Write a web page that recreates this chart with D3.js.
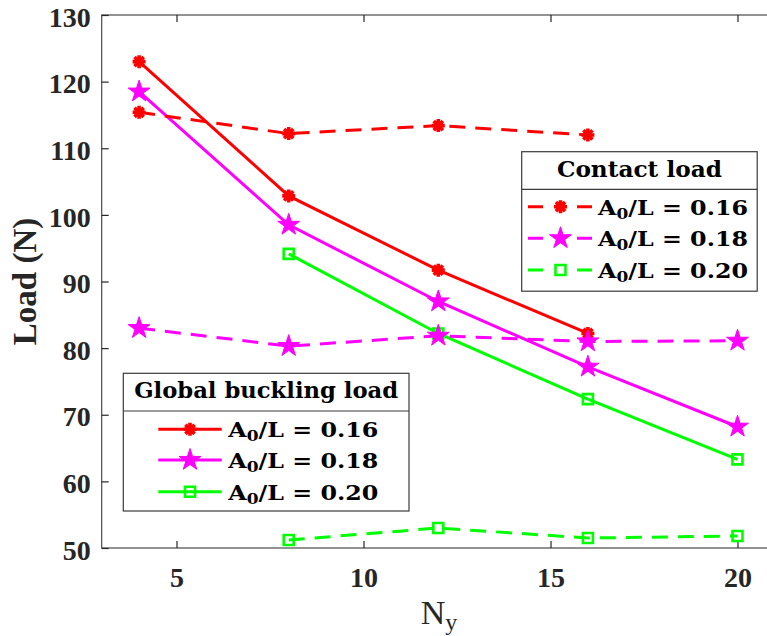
<!DOCTYPE html>
<html>
<head>
<meta charset="utf-8">
<script src="https://cdn.jsdelivr.net/npm/d3@7"></script>
<style>
  html, body { margin: 0; padding: 0; background: #fff; }
  svg { display: block; }
</style>
</head>
<body>
<div id="chart"></div>
<script>
// Number of elements along y (x axis)
const ny = [4, 8, 12, 16, 20];

// Global buckling load (solid lines), one array per A0/L ratio
const globalA016 = [123.0, 102.85, 91.7, 82.2, null];
const globalA018 = [118.5, 98.5, 87.0, 77.2, 68.2];
const globalA020 = [null, 94.15, 82.2, 72.35, 63.3];

// Contact load (dashed lines)
const contactA016 = [115.4, 112.2, 113.4, 112.0, null];
const contactA018 = [83.0, 80.3, 81.85, 81.0, 81.1];
const contactA020 = [null, 51.2, 53.0, 51.5, 51.8];

const ratioLabels = ["0.16", "0.18", "0.20"];
const xTicks = [5, 10, 15, 20];
const yTicks = [50, 60, 70, 80, 90, 100, 110, 120, 130];

const W = 767, H = 636;
const colors = ["#ff0000", "#ff00ff", "#00ff00"];
const markers = ["asterisk", "star", "square"];

const svg = d3.select("#chart").append("svg")
  .attr("width", W).attr("height", H);

const x = d3.scaleLinear().domain([3, 21]).range([101.7, 101.7 + 18 * 37.4]);
const y = d3.scaleLinear().domain([50, 130]).range([548, 15]);

const axisColor = "#262626";
const tickFont = "'Liberation Serif', 'Times New Roman', serif";
const texFont = "'DejaVu Serif', serif";

// Plot box
const [x0, x1] = x.range();
const [yb, yt] = y.range();
svg.append("rect")
  .attr("x", x0).attr("y", yt).attr("width", x1 - x0).attr("height", yb - yt)
  .attr("fill", "none").attr("stroke", "#4a4a4a").attr("stroke-width", 1.2);

// Axes with inward ticks
const tickLen = 7;
const xAxisB = svg.append("g").attr("transform", `translate(0,${yb})`)
  .call(d3.axisBottom(x).tickValues(xTicks).tickSizeInner(-tickLen).tickSizeOuter(0).tickPadding(19));
const xAxisT = svg.append("g").attr("transform", `translate(0,${yt})`)
  .call(d3.axisTop(x).tickValues(xTicks).tickSizeInner(-tickLen).tickSizeOuter(0).tickFormat(""));
const yAxisL = svg.append("g").attr("transform", `translate(${x0},0)`)
  .call(d3.axisLeft(y).tickValues(yTicks).tickSizeInner(-tickLen).tickSizeOuter(0).tickPadding(11));
const yAxisR = svg.append("g").attr("transform", `translate(${x1},0)`)
  .call(d3.axisRight(y).tickValues(yTicks).tickSizeInner(-tickLen).tickSizeOuter(0).tickFormat(""));

[xAxisB, xAxisT, yAxisL, yAxisR].forEach(g => {
  g.select(".domain").remove();
  g.selectAll(".tick line").attr("stroke", axisColor).attr("stroke-width", 1.2);
  g.selectAll(".tick text")
    .attr("fill", axisColor)
    .style("font-family", tickFont)
    .style("font-weight", "bold")
    .style("font-size", "28px");
});
yAxisL.selectAll(".tick text").attr("dy", "0.4em");
xAxisB.selectAll(".tick text").attr("dy", "0.71em");

// Axis labels
svg.append("text")
  .attr("transform", `translate(36,${(yt + yb) / 2}) rotate(-90)`)
  .attr("text-anchor", "middle")
  .attr("fill", axisColor)
  .style("font-family", tickFont).style("font-weight", "bold").style("font-size", "33px")
  .text("Load (N)");

const xl = svg.append("text")
  .attr("x", 439).attr("y", 624)
  .attr("text-anchor", "middle")
  .attr("fill", axisColor)
  .style("font-family", tickFont).style("font-size", "34px");
xl.append("tspan").text("N");
xl.append("tspan").attr("dy", 6).style("font-size", "24px").text("y");

// Marker shapes
function markerPath(kind) {
  if (kind === "asterisk") {
    const r = 6.5;
    const p = d3.path();
    for (let k = 0; k < 4; k++) {
      const a = k * Math.PI / 4;
      p.moveTo(-r * Math.cos(a), -r * Math.sin(a));
      p.lineTo(r * Math.cos(a), r * Math.sin(a));
    }
    return p.toString();
  }
  if (kind === "star") {
    const R = 11.5, r = R * 0.382;
    const pts = [];
    for (let k = 0; k < 10; k++) {
      const a = -Math.PI / 2 + k * Math.PI / 5;
      const rad = k % 2 ? r : R;
      pts.push([rad * Math.cos(a), rad * Math.sin(a)]);
    }
    return "M" + pts.map(p => p.join(",")).join("L") + "Z";
  }
  const s = 5;
  return `M${-s},${-s}H${s}V${s}H${-s}Z`;
}

function drawMarker(g, kind, color, cx, cy) {
  const m = g.append("path")
    .attr("d", markerPath(kind))
    .attr("transform", `translate(${cx},${cy})`);
  if (kind === "asterisk") {
    m.attr("fill", "none").attr("stroke", color).attr("stroke-width", 3.6);
  } else if (kind === "star") {
    m.attr("fill", color).attr("stroke", color).attr("stroke-width", 1);
  } else {
    m.attr("fill", "none").attr("stroke", color).attr("stroke-width", 2.6);
  }
}

const lineGen = d3.line()
  .defined(d => d.v !== null)
  .x(d => x(d.n)).y(d => y(d.v));

const plot = svg.append("g");

function drawSeries(values, i, dashed) {
  const data = ny.map((n, j) => ({ n, v: values[j] }));
  plot.append("path")
    .datum(data)
    .attr("d", lineGen)
    .attr("fill", "none")
    .attr("stroke", colors[i])
    .attr("stroke-width", 3)
    .attr("stroke-dasharray", dashed ? "16,10" : null);
  data.filter(d => d.v !== null)
    .forEach(d => drawMarker(plot, markers[i], colors[i], x(d.n), y(d.v)));
}

[globalA016, globalA018, globalA020].forEach((s, i) => drawSeries(s, i, false));
[contactA016, contactA018, contactA020].forEach((s, i) => drawSeries(s, i, true));

// Legends
function legend(opts) {
  const g = svg.append("g");
  g.append("rect")
    .attr("x", opts.x).attr("y", opts.y).attr("width", opts.w).attr("height", opts.h)
    .attr("fill", "#fff").attr("stroke", "#3a3a3a").attr("stroke-width", 1.2);
  g.append("line")
    .attr("x1", opts.x).attr("x2", opts.x + opts.w)
    .attr("y1", opts.sep).attr("y2", opts.sep)
    .attr("stroke", "#3a3a3a").attr("stroke-width", 1.2);
  g.append("text")
    .attr("x", opts.x + opts.w / 2).attr("y", opts.titleY)
    .attr("text-anchor", "middle")
    .attr("fill", "#000")
    .attr("textLength", opts.titleW).attr("lengthAdjust", "spacingAndGlyphs")
    .style("font-family", texFont).style("font-weight", "bold").style("font-size", "22px")
    .text(opts.title);
  ratioLabels.forEach((lab, i) => {
    const cy = opts.rows[i];
    g.append("line")
      .attr("x1", opts.lx0).attr("x2", opts.lx1)
      .attr("y1", cy).attr("y2", cy)
      .attr("stroke", colors[i]).attr("stroke-width", 3)
      .attr("stroke-dasharray", opts.dashed ? "15,34" : null);
    drawMarker(g, markers[i], colors[i], (opts.lx0 + opts.lx1) / 2, cy);
    const t = g.append("text")
      .attr("x", opts.tx).attr("y", cy + 8)
      .attr("fill", "#000")
      .attr("textLength", 150).attr("lengthAdjust", "spacingAndGlyphs")
      .style("font-family", texFont).style("font-weight", "bold").style("font-size", "21px");
    t.append("tspan").text("A");
    t.append("tspan").attr("dy", 4).style("font-size", "15px").text("0");
    t.append("tspan").attr("dy", -4).text("/L = " + lab);
  });
}

legend({
  x: 521.7, y: 151.7, w: 235.5, h: 139.5, sep: 189.3,
  title: "Contact load", titleY: 176.5, titleW: 165,
  lx0: 528, lx1: 593, tx: 598, rows: [206.7, 238.3, 270], dashed: true
});

legend({
  x: 123.3, y: 373.3, w: 285.7, h: 137.7, sep: 411,
  title: "Global buckling load", titleY: 398, titleW: 264,
  lx0: 158.3, lx1: 221.7, tx: 228.3, rows: [429.3, 460, 491.7], dashed: false
});
</script>
</body>
</html>
